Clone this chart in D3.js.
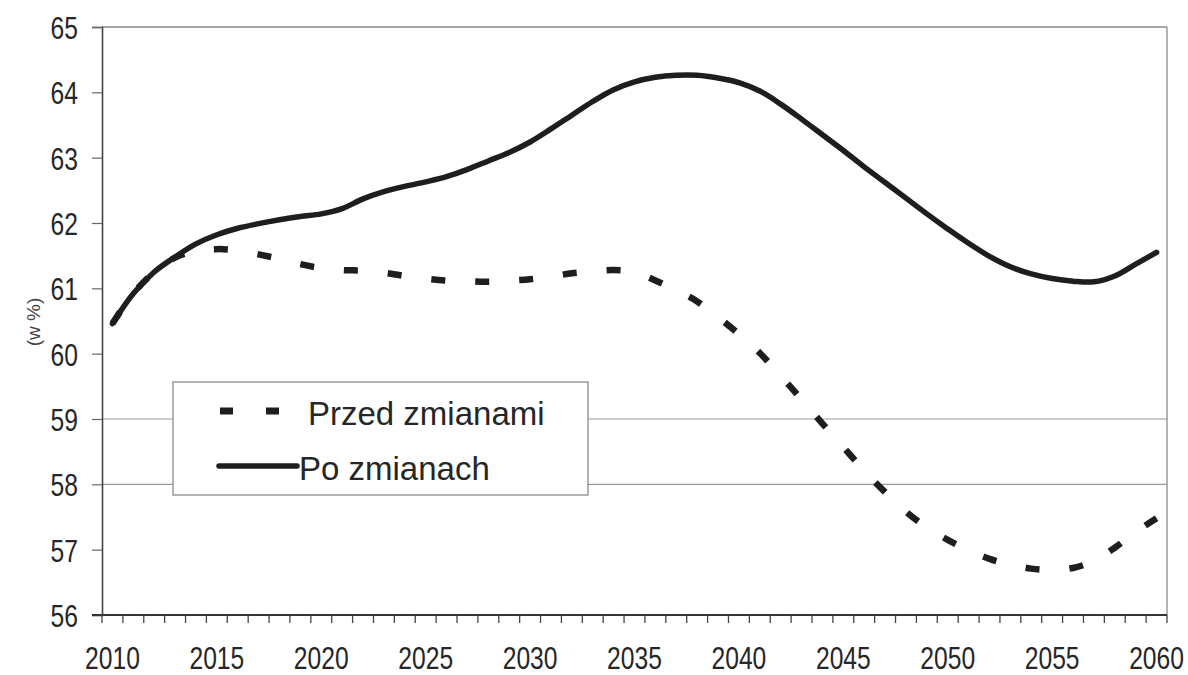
<!DOCTYPE html>
<html>
<head>
<meta charset="utf-8">
<script src="https://cdn.jsdelivr.net/npm/d3@7"></script>
<style>
  html, body { margin: 0; padding: 0; background: #fff; }
  svg { display: block; }
</style>
</head>
<body>
<svg id="chart" width="1188" height="675"></svg>
<script>
const years = d3.range(2010, 2061);
const seriesNames = ["Przed zmianami", "Po zmianach"];
const przedZmianami = [
  60.46, 60.92, 61.25, 61.47, 61.57, 61.60, 61.58, 61.52, 61.45, 61.37,
  61.31, 61.28, 61.27, 61.24, 61.19, 61.15, 61.12, 61.11, 61.10, 61.12,
  61.14, 61.18, 61.23, 61.26, 61.28, 61.25, 61.12, 60.97, 60.80, 60.56,
  60.30, 60.01, 59.66, 59.30, 58.93, 58.57, 58.21, 57.88, 57.58, 57.34,
  57.15, 56.99, 56.86, 56.77, 56.71, 56.69, 56.72, 56.83, 57.03, 57.27,
  57.48
];
const poZmianach = [
  60.46, 60.92, 61.25, 61.48, 61.68, 61.82, 61.92, 61.99, 62.05, 62.10,
  62.14, 62.22, 62.37, 62.48, 62.56, 62.63, 62.71, 62.82, 62.95, 63.08,
  63.24, 63.44, 63.65, 63.86, 64.04, 64.16, 64.23, 64.26, 64.26, 64.22,
  64.15, 64.02, 63.82, 63.59, 63.35, 63.11, 62.86, 62.62, 62.38, 62.14,
  61.91, 61.69, 61.49, 61.33, 61.22, 61.15, 61.11, 61.10, 61.19, 61.37,
  61.55
];
const yTicks = [56, 57, 58, 59, 60, 61, 62, 63, 64, 65];
const gridValues = [58, 59];
const xLabelYears = [2010, 2015, 2020, 2025, 2030, 2035, 2040, 2045, 2050, 2055, 2060];
const yAxisTitle = "(w %)";

(function () {
const svg = d3.select("#chart");
const mLeft = 102, mRight = 1167, mTop = 27, mBottom = 615;
const textFont = "'Liberation Sans', Arial, sans-serif";
const ink = "#262626";
const narrow = 0.77;
const tickSize = 32;

const x = d3.scaleBand().domain(years).range([mLeft, mRight]).padding(0);
const y = d3.scaleLinear().domain([56, 65]).range([mBottom, mTop]);
const cx = yr => x(yr) + x.bandwidth() / 2;

// grid lines
svg.append("g").selectAll("line").data(gridValues).join("line")
  .attr("x1", mLeft).attr("x2", mRight)
  .attr("y1", d => y(d)).attr("y2", d => y(d))
  .attr("stroke", "#9a9a9a").attr("stroke-width", 1.2);

// plot border (top & right)
svg.append("line").attr("x1", mLeft).attr("x2", mRight).attr("y1", y(65)).attr("y2", y(65))
  .attr("stroke", "#8a8a8a").attr("stroke-width", 1.3);
svg.append("line").attr("x1", mRight).attr("x2", mRight).attr("y1", y(65)).attr("y2", y(56))
  .attr("stroke", "#8a8a8a").attr("stroke-width", 1.3);

// y axis
const yAxis = svg.append("g").attr("transform", `translate(${mLeft},0)`)
  .call(d3.axisLeft(y).tickValues(yTicks).tickSize(10).tickPadding(15).tickFormat(d3.format("d")));
yAxis.select(".domain").attr("stroke", "#444").attr("stroke-width", 1.6);
yAxis.selectAll(".tick line").attr("stroke", "#666").attr("stroke-width", 1.2);
yAxis.selectAll(".tick text")
  .attr("font-family", textFont).attr("font-size", tickSize).attr("fill", ink)
  .attr("x", -24 / narrow).attr("dy", "0.36em")
  .attr("transform", `scale(${narrow},1)`);

// x axis
const xg = svg.append("g");
xg.append("line").attr("x1", mLeft - 10).attr("x2", mRight).attr("y1", mBottom).attr("y2", mBottom)
  .attr("stroke", "#333").attr("stroke-width", 2);
const boundaries = years.map(yr => x(yr)).concat([x(2060) + x.bandwidth()]);
xg.selectAll("line.tk").data(boundaries).join("line").attr("class", "tk")
  .attr("x1", d => d).attr("x2", d => d).attr("y1", mBottom).attr("y2", mBottom + 8)
  .attr("stroke", "#444").attr("stroke-width", 1.3);
xg.selectAll("text").data(xLabelYears).join("text")
  .attr("transform", d => `translate(${cx(d)},669) scale(${narrow},1)`)
  .attr("text-anchor", "middle")
  .attr("font-family", textFont).attr("font-size", tickSize).attr("fill", ink)
  .text(d => d);

// y axis title
svg.append("text").attr("transform", "translate(40,322) rotate(-90)")
  .attr("text-anchor", "middle").attr("font-family", textFont)
  .style("font-size", "19px")
  .attr("fill", "#444").text(yAxisTitle);

// lines
const line = d3.line().x((d, i) => cx(years[i])).y(d => y(d)).curve(d3.curveCatmullRom.alpha(0.5));
svg.append("path").datum(przedZmianami).attr("d", line)
  .attr("fill", "none").attr("stroke", "#1e1e1e").attr("stroke-width", 6.5)
  .attr("stroke-dasharray", "14,30");
svg.append("path").datum(poZmianach).attr("d", line)
  .attr("fill", "none").attr("stroke", "#1e1e1e").attr("stroke-width", 5.5)
  .attr("stroke-linecap", "round");

// legend
const lg = svg.append("g");
lg.append("rect").attr("x", 173).attr("y", 382).attr("width", 415).attr("height", 113)
  .attr("fill", "#fff").attr("stroke", "#8a8a8a").attr("stroke-width", 1.3);
lg.append("line").attr("x1", 220).attr("x2", 282).attr("y1", 411).attr("y2", 411)
  .attr("stroke", "#1e1e1e").attr("stroke-width", 7).attr("stroke-dasharray", "13,33");
lg.append("line").attr("x1", 219).attr("x2", 297).attr("y1", 466).attr("y2", 466)
  .attr("stroke", "#1e1e1e").attr("stroke-width", 5.5).attr("stroke-linecap", "round");
lg.append("text").attr("x", 308).attr("y", 425).attr("font-family", textFont).attr("font-size", 33)
  .attr("fill", ink).text(seriesNames[0]);
lg.append("text").attr("x", 299).attr("y", 480).attr("font-family", textFont).attr("font-size", 33)
  .attr("fill", ink).text(seriesNames[1]);
})();
</script>
</body>
</html>
